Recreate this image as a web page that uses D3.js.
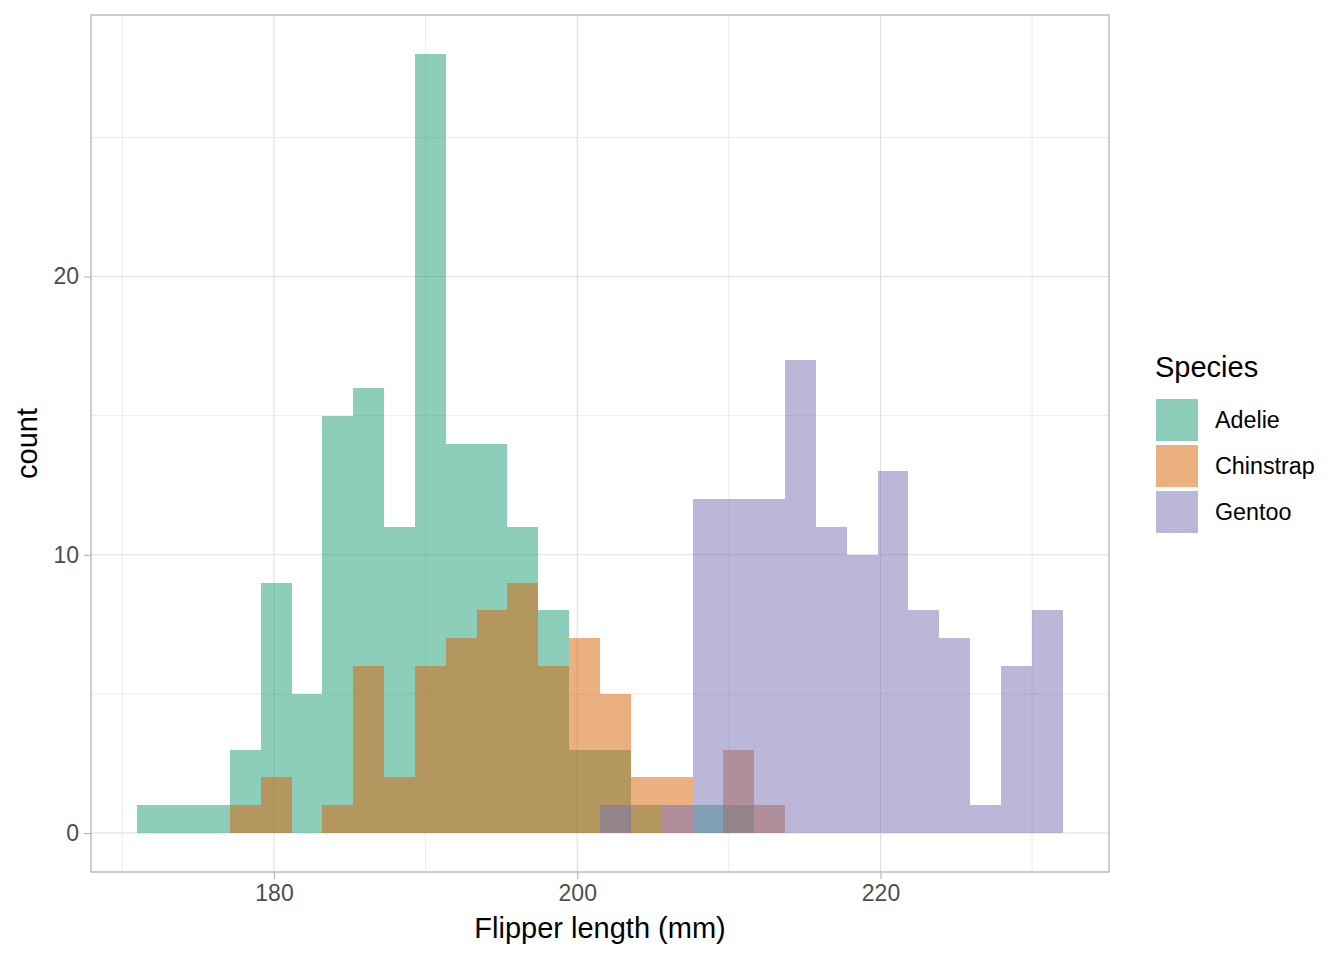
<!DOCTYPE html>
<head>
  <meta charset="utf-8">
  <style>
    body { margin: 0; background: #fff; }
    text { font-family: "Liberation Sans", Arial, sans-serif; }
    .tick text { fill: #4d4d4d; font-size: 23px; }
  </style>
  <script src="https://d3js.org/d3.v7.min.js" charset="utf-8"></script>
</head>
<body>
  <script>
    // histogram: 30 bins starting at binMin, each binWidth wide
    const binMin = 170.983;
    const binWidth = 2.0345;
    const species = ['Adelie', 'Chinstrap', 'Gentoo'];
    const adelieCounts    = [1, 1, 1, 3, 9, 5, 15, 16, 11, 28, 14, 14, 11, 8, 3, 3, 1, 0, 1, 1, 0, 0, 0, 0, 0, 0, 0, 0, 0, 0];
    const chinstrapCounts = [0, 0, 0, 1, 2, 0, 1, 6, 2, 6, 7, 8, 9, 6, 7, 5, 2, 2, 0, 3, 1, 0, 0, 0, 0, 0, 0, 0, 0, 0];
    const gentooCounts    = [0, 0, 0, 0, 0, 0, 0, 0, 0, 0, 0, 0, 0, 0, 0, 1, 0, 1, 12, 12, 12, 17, 11, 10, 13, 8, 7, 1, 6, 8];
    const xTicks = [180, 200, 220];
    const xMinor = [170, 190, 210, 230];
    const yTicks = [0, 10, 20];
    const yMinor = [5, 15, 25];
    const colors = ['#1B9E77', '#D95F02', '#7570B3'];

    const countsBySpecies = [adelieCounts, chinstrapCounts, gentooCounts];

    const w = 1344, h = 960;
    const panel = { left: 91, right: 1109, top: 15, bottom: 872 };

    const svg = d3.select('body').append('svg')
      .attr('width', w)
      .attr('height', h);

    const nBins = adelieCounts.length;
    const xLo = binMin, xHi = binMin + nBins * binWidth;
    const xPad = (xHi - xLo) * 0.05;
    const yMax = d3.max(countsBySpecies.flat());

    const xScale = d3.scaleLinear()
      .domain([xLo - xPad, xHi + xPad])
      .range([panel.left, panel.right]);

    const yScale = d3.scaleLinear()
      .domain([-yMax * 0.05, yMax * 1.05])
      .range([panel.bottom, panel.top]);

    const color = d3.scaleOrdinal().domain(species).range(colors);

    // grid
    const grid = svg.append('g');
    grid.selectAll('.xminor').data(xMinor).enter().append('line')
      .attr('x1', d => xScale(d)).attr('x2', d => xScale(d))
      .attr('y1', panel.top).attr('y2', panel.bottom)
      .attr('stroke', '#dedede').attr('stroke-width', 0.6);
    grid.selectAll('.yminor').data(yMinor).enter().append('line')
      .attr('y1', d => yScale(d)).attr('y2', d => yScale(d))
      .attr('x1', panel.left).attr('x2', panel.right)
      .attr('stroke', '#dedede').attr('stroke-width', 0.6);
    grid.selectAll('.xmajor').data(xTicks).enter().append('line')
      .attr('x1', d => xScale(d)).attr('x2', d => xScale(d))
      .attr('y1', panel.top).attr('y2', panel.bottom)
      .attr('stroke', '#dedede').attr('stroke-width', 1.1);
    grid.selectAll('.ymajor').data(yTicks).enter().append('line')
      .attr('y1', d => yScale(d)).attr('y2', d => yScale(d))
      .attr('x1', panel.left).attr('x2', panel.right)
      .attr('stroke', '#dedede').attr('stroke-width', 1.1);

    // bars, drawn species by species with alpha like ggplot identity position
    species.forEach((sp, si) => {
      const bins = countsBySpecies[si]
        .map((c, i) => ({ x0: binMin + i * binWidth, x1: binMin + (i + 1) * binWidth, count: c }))
        .filter(d => d.count > 0);
      svg.append('g')
        .selectAll('rect')
        .data(bins)
        .enter()
        .append('rect')
        .attr('x', d => xScale(d.x0))
        .attr('width', d => xScale(d.x1) - xScale(d.x0))
        .attr('y', d => yScale(d.count))
        .attr('height', d => yScale(0) - yScale(d.count))
        .attr('fill', color(sp))
        .attr('fill-opacity', 0.5)
        .attr('shape-rendering', 'crispEdges');
    });

    // panel border
    svg.append('rect')
      .attr('x', panel.left).attr('y', panel.top)
      .attr('width', panel.right - panel.left)
      .attr('height', panel.bottom - panel.top)
      .attr('fill', 'none')
      .attr('stroke', '#b3b3b3')
      .attr('stroke-width', 1.3);

    // axes
    const xAxis = d3.axisBottom(xScale).tickValues(xTicks).tickSize(7).tickPadding(6);
    const gx = svg.append('g')
      .attr('transform', `translate(0, ${panel.bottom})`)
      .call(xAxis);
    gx.select('.domain').remove();
    gx.selectAll('.tick line').attr('stroke', '#b3b3b3').attr('stroke-width', 1.1);

    const yAxis = d3.axisLeft(yScale).tickValues(yTicks).tickSize(7).tickPadding(5);
    const gy = svg.append('g')
      .attr('transform', `translate(${panel.left}, 0)`)
      .call(yAxis);
    gy.select('.domain').remove();
    gy.selectAll('.tick line').attr('stroke', '#b3b3b3').attr('stroke-width', 1.1);

    // axis titles
    svg.append('text')
      .attr('x', (panel.left + panel.right) / 2)
      .attr('y', 938)
      .attr('text-anchor', 'middle')
      .attr('font-size', '29px')
      .attr('fill', '#000')
      .text('Flipper length (mm)');

    svg.append('text')
      .attr('transform', `translate(37, ${(panel.top + panel.bottom) / 2}) rotate(-90)`)
      .attr('text-anchor', 'middle')
      .attr('font-size', '29px')
      .attr('fill', '#000')
      .text('count');

    // legend
    const legend = svg.append('g').attr('transform', 'translate(1155, 0)');
    legend.append('text')
      .attr('x', 0).attr('y', 377)
      .attr('font-size', '29px')
      .text('Species');

    const keys = legend.selectAll('.key')
      .data(species)
      .enter()
      .append('g')
      .attr('transform', (d, i) => `translate(0, ${399 + i * 46})`);
    keys.append('rect')
      .attr('x', 1).attr('y', 0)
      .attr('width', 42).attr('height', 42)
      .attr('fill', d => color(d))
      .attr('fill-opacity', 0.5);
    keys.append('text')
      .attr('x', 60).attr('y', 21)
      .attr('dy', '0.35em')
      .attr('font-size', '23.3px')
      .text(d => d);
  </script>
</body>
